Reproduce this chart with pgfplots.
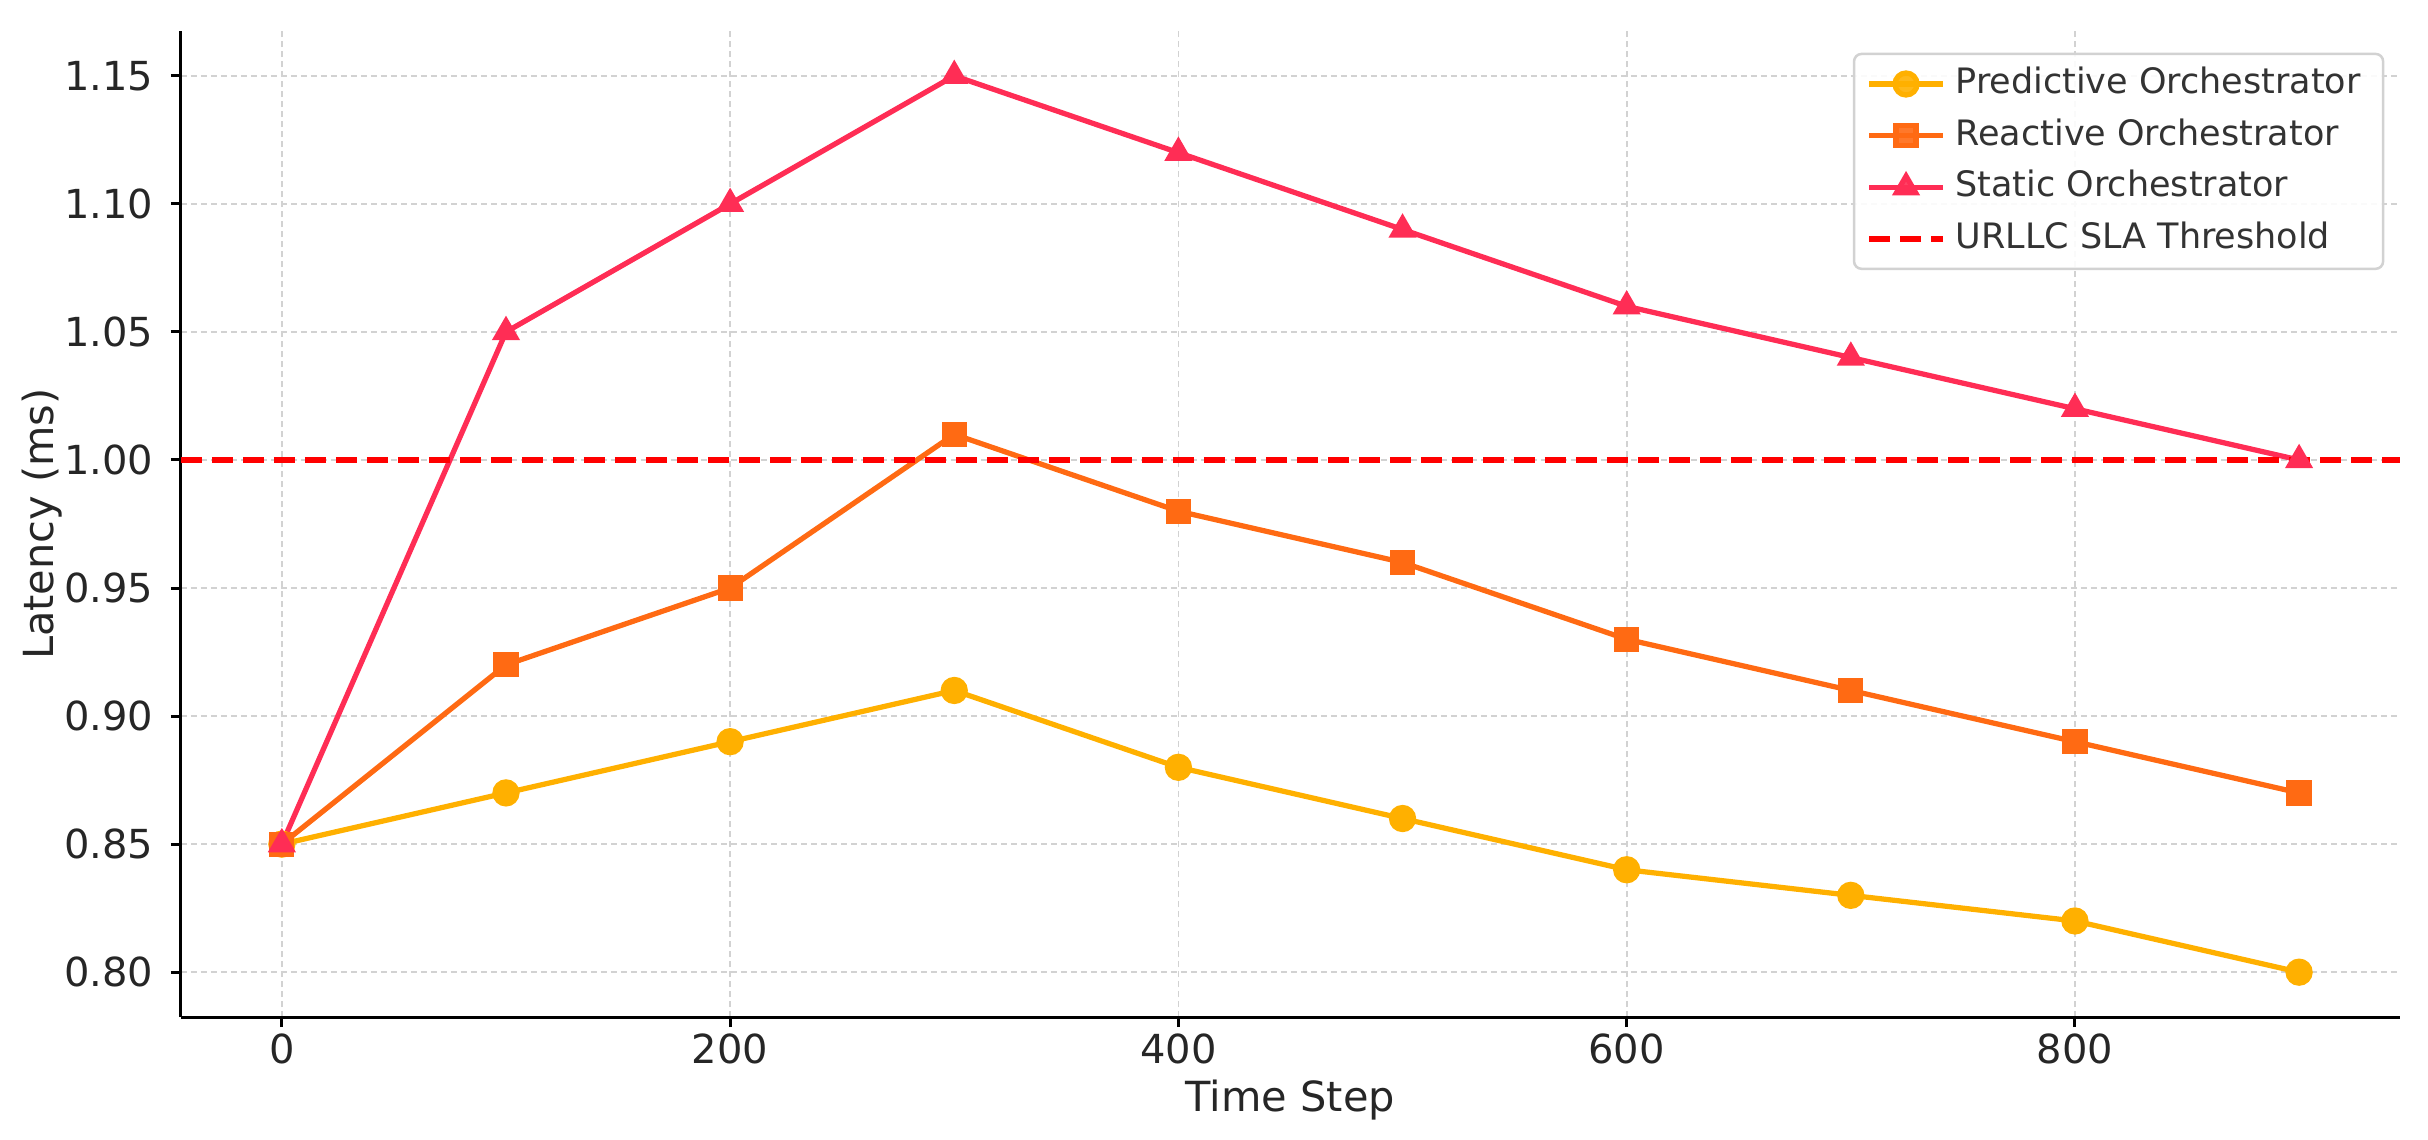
\documentclass[border=0pt]{standalone}
\usepackage{pgfplots}
\pgfplotsset{compat=1.18}
\usepackage{fontspec}
\setmainfont{DejaVu Sans}
\definecolor{cpred}{HTML}{FFB000}
\definecolor{creac}{HTML}{FF6A13}
\definecolor{cstat}{HTML}{FF2D55}
\definecolor{cthr}{HTML}{FF0000}
\begin{document}
\begin{tikzpicture}
\begin{axis}[
  scale only axis,
  width=443.8pt, height=197.2pt,
  xmin=-45, xmax=945,
  ymin=0.7825, ymax=1.1675,
  xtick={0,200,400,600,800},
  ytick={0.80,0.85,0.90,0.95,1.00,1.05,1.10,1.15},
  yticklabel style={/pgf/number format/.cd, fixed, fixed zerofill, precision=2},
  /pgf/number format/assume math mode=true,
  axis lines*=left,
  axis line style={line width=0.6pt, black},
  tick align=outside,
  major tick length=2pt,
  tick style={line width=0.6pt, black},
  ticklabel style={font=\fontsize{8}{10}\selectfont, text=black!85},
  xticklabel style={yshift=2.2pt},
  label style={font=\fontsize{8.3}{10}\selectfont, text=black!85},
  grid=major,
  major grid style={gray!35, line width=0.35pt, dash pattern=on 1.2pt off 0.8pt},
  xlabel={Time Step},
  ylabel={Latency (ms)},
  xlabel style={at={(axis description cs:0.5,-0.0842)}, anchor=center},
  ylabel style={at={(axis description cs:-0.0626,0.5)}, anchor=center},
  legend style={at={(axis description cs:0.993,0.978)}, anchor=north east,
    font=\fontsize{7}{8.5}\selectfont, text=black!80,
    draw=gray!35, line width=0.5pt, rounded corners=1.5pt, fill=white, fill opacity=0.9, text opacity=1,
    row sep=-0.5pt, inner xsep=2.5pt, inner ysep=0.6pt},
  legend cell align=left,
  legend image code/.code={\draw[mark repeat=2,mark phase=2,#1] plot coordinates {(0pt,0pt)(7.35pt,0pt)(14.7pt,0pt)};},
]
\addplot[cpred, line width=1.05pt, mark=*, mark size=2.2pt, mark options={solid, fill=cpred, draw=cpred}]
  coordinates {(0,0.85)(100,0.87)(200,0.89)(300,0.91)(400,0.88)(500,0.86)(600,0.84)(700,0.83)(800,0.82)(900,0.80)};
\addlegendentry{Predictive Orchestrator}
\addplot[creac, line width=1.05pt, mark=square*, mark size=2pt, mark options={solid, fill=creac, draw=creac}]
  coordinates {(0,0.85)(100,0.92)(200,0.95)(300,1.01)(400,0.98)(500,0.96)(600,0.93)(700,0.91)(800,0.89)(900,0.87)};
\addlegendentry{Reactive Orchestrator}
\addplot[cstat, line width=1.05pt, mark=triangle*, mark size=2.2pt, mark options={solid, fill=cstat, draw=cstat}]
  coordinates {(0,0.85)(100,1.05)(200,1.10)(300,1.15)(400,1.12)(500,1.09)(600,1.06)(700,1.04)(800,1.02)(900,1.00)};
\addlegendentry{Static Orchestrator}
\addplot[cthr, line width=1.1pt, dash pattern=on 4.2pt off 2pt]
  coordinates {(-45,1.0)(945,1.0)};
\addlegendentry{URLLC SLA Threshold}
\end{axis}
\pgfresetboundingbox
\path[use as bounding box] (-36.2pt,-24.6pt) rectangle (449.4pt,203.4pt);
\end{tikzpicture}
\end{document}
